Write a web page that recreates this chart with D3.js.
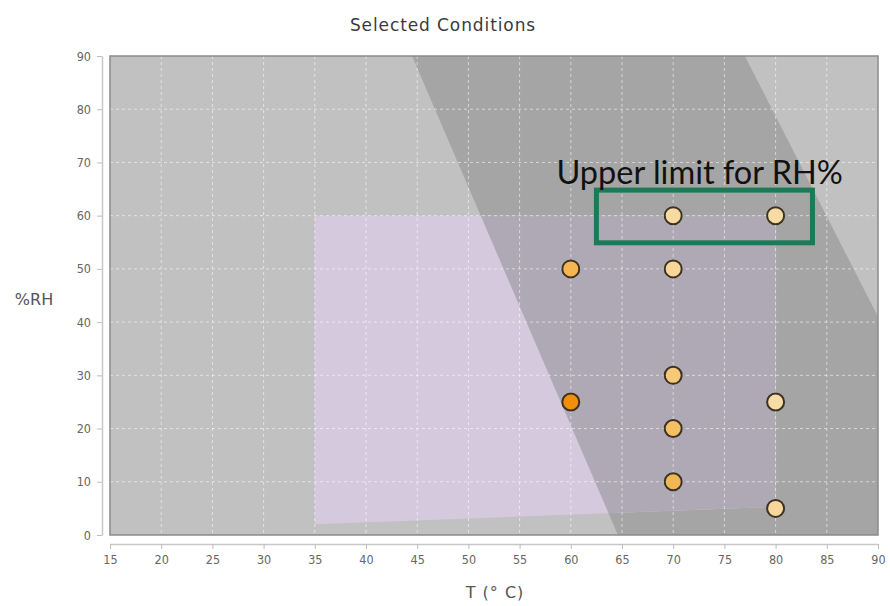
<!DOCTYPE html>
<html><head><meta charset="utf-8">
<script src="https://cdn.jsdelivr.net/npm/d3@7"></script>
<style>body{margin:0;background:#fff;} svg{display:block;}</style>
</head><body>
<svg id="c" width="890" height="606"></svg>
<script>
const title = "Selected Conditions";
const xLabel = "T (° C)";
const yLabel = "%RH";
const xTicks = [15,20,25,30,35,40,45,50,55,60,65,70,75,80,85,90];
const yTicks = [0,10,20,30,40,50,60,70,80,90];
const pointT  = [60, 60, 70, 70, 70, 70, 70, 80, 80, 80];
const pointRH = [50, 25, 60, 50, 30, 20, 10, 60, 25, 5];
const pointFill = ["#f5b550","#f28e0a","#f8d9a0","#f8d698","#f6c877","#f5c064","#f3b656","#f8dba2","#f8dca6","#f8d79c"];
const darkBand = [[44.5,90],[77,90],[90,41],[90,0],[64.6,0]];
const purpleZone = [[35,60],[80,60],[80,5.3],[35,2]];
const limitBox = {t0:62.5, t1:83.6, rh0:54.9, rh1:64.8};
const limitText = "Upper limit for RH%";

const svg = d3.select("#c");
const x = d3.scaleLinear().domain([15,90]).range([110,878]);
const y = d3.scaleLinear().domain([0,90]).range([535,56]);
const poly = pts => "M" + pts.map(p => x(p[0]) + "," + y(p[1])).join("L") + "Z";

svg.append("text").attr("x",443).attr("y",31).attr("text-anchor","middle")
  .attr("font-family","DejaVu Sans").attr("font-size",17).attr("letter-spacing",0.9).attr("fill","#3a3a3a").text(title);

// plot background
svg.append("rect").attr("x",x(15)).attr("y",y(90)).attr("width",x(90)-x(15)).attr("height",y(0)-y(90)).attr("fill","#c1c1c1");
const defs = svg.append("defs");
defs.append("clipPath").attr("id","pz").append("path").attr("d",poly(purpleZone));
svg.append("path").attr("d",poly(darkBand)).attr("fill","#a5a5a5");
svg.append("path").attr("d",poly(purpleZone)).attr("fill","#d5c9dd");
svg.append("path").attr("d",poly(darkBand)).attr("fill","#afa9b6").attr("clip-path","url(#pz)");

// grid
const g = svg.append("g");
g.selectAll("line.vx").data(xTicks.slice(1,-1)).join("line")
  .attr("x1",d=>x(d)).attr("x2",d=>x(d)).attr("y1",y(90)).attr("y2",y(0))
  .attr("stroke","#ffffff").attr("stroke-opacity",0.55).attr("stroke-dasharray","3,3");
g.selectAll("line.hy").data(yTicks.slice(1,-1)).join("line")
  .attr("y1",d=>y(d)).attr("y2",d=>y(d)).attr("x1",x(15)).attr("x2",x(90))
  .attr("stroke","#ffffff").attr("stroke-opacity",0.55).attr("stroke-dasharray","3,3");

// border
svg.append("rect").attr("x",x(15)).attr("y",y(90)).attr("width",x(90)-x(15)).attr("height",y(0)-y(90))
  .attr("fill","none").attr("stroke","#8a8a8a").attr("stroke-width",1.5);

// axes
const xAxis = d3.axisBottom(x).tickValues(xTicks).tickSize(5).tickSizeOuter(0).tickPadding(6);
const yAxis = d3.axisLeft(y).tickValues(yTicks).tickSize(5).tickSizeOuter(0).tickPadding(6);
const gx = svg.append("g").attr("transform","translate(0,544)").call(xAxis);
const gy = svg.append("g").attr("transform","translate(102,0)").call(yAxis);
[gx,gy].forEach(a=>{
  a.select(".domain").attr("stroke","#c8c8c8").attr("stroke-width",1.5);
  a.selectAll(".tick line").attr("stroke","#bdbdbd");
  a.selectAll(".tick text").attr("fill","#666").attr("font-family","DejaVu Sans Condensed, DejaVu Sans").attr("font-size",12.5);
});

svg.append("text").attr("x",495).attr("y",598).attr("text-anchor","middle")
  .attr("font-family","DejaVu Sans").attr("font-size",16).attr("letter-spacing",1).attr("fill","#555").text(xLabel);
svg.append("text").attr("x",34).attr("y",305).attr("text-anchor","middle")
  .attr("font-family","DejaVu Sans").attr("font-size",16).attr("fill","#555").text(yLabel);

// points
svg.selectAll("circle.p").data(pointT.map((t,i)=>({t, rh:pointRH[i], f:pointFill[i]}))).join("circle")
  .attr("cx",d=>x(d.t)).attr("cy",d=>y(d.rh)).attr("r",8.5)
  .attr("fill",d=>d.f).attr("stroke","#3b3222").attr("stroke-width",2);

// annotation
svg.append("rect").attr("x",x(limitBox.t0)).attr("y",y(limitBox.rh1))
  .attr("width",x(limitBox.t1)-x(limitBox.t0)).attr("height",y(limitBox.rh0)-y(limitBox.rh1))
  .attr("fill","none").attr("stroke","#1b7a58").attr("stroke-width",5);
svg.append("text").attr("x",x(58.6)).attr("y",184).attr("font-family","Lato, Open Sans").attr("font-size",32.5)
  .attr("fill","#111").text(limitText);
</script>
</body></html>
